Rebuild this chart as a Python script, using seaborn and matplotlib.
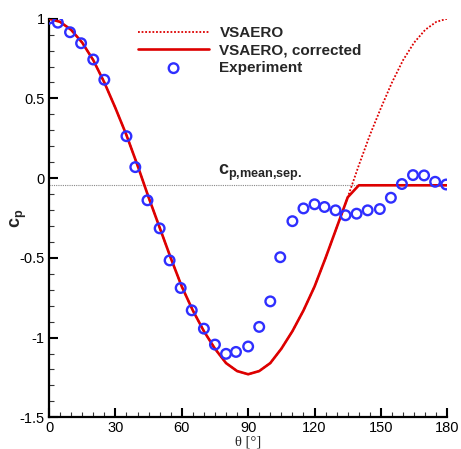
import numpy as np
import pandas as pd
import matplotlib
matplotlib.use("Agg")
import matplotlib.pyplot as plt
from matplotlib.ticker import MultipleLocator, FuncFormatter
import seaborn as sns

# potential flow result (VSAERO), every 5 deg
theta_pot = [0, 5, 10, 15, 20, 25, 30, 35, 40, 45, 50, 55, 60, 65, 70, 75, 80, 85, 90,
             95, 100, 105, 110, 115, 120, 125, 130, 135, 140, 145, 150, 155, 160, 165, 170, 175, 180]
cp_pot = [1.00, 0.98, 0.93, 0.85, 0.74, 0.60, 0.44, 0.27, 0.08, -0.12, -0.31, -0.50, -0.68, -0.83,
          -0.96, -1.07, -1.16, -1.21, -1.23, -1.21, -1.16, -1.07, -0.96, -0.83, -0.68, -0.50,
          -0.31, -0.12, 0.08, 0.27, 0.44, 0.60, 0.74, 0.85, 0.93, 0.98, 1.00]

# corrected: potential up to separation, then constant mean pressure
cp_sep = -0.045
theta_cor = theta_pot[:28] + [140, 180]
cp_cor = cp_pot[:28] + [cp_sep, cp_sep]

# experiment
theta_exp = [0, 4, 9.5, 14.5, 20, 25, 35, 39, 44.5, 50, 54.5, 59.5, 64.5, 70, 75, 80, 84.5, 90,
             95, 100, 104.5, 110, 115, 120, 124.5, 129.5, 134, 139, 144, 149.5, 154.5, 159.5,
             164.5, 169.5, 174.5, 179.5]
cp_exp = [1.0, 0.975, 0.915, 0.846, 0.744, 0.617, 0.263, 0.069, -0.139, -0.315, -0.516, -0.689,
          -0.829, -0.944, -1.044, -1.102, -1.09, -1.056, -0.933, -0.773, -0.496, -0.27, -0.19,
          -0.164, -0.181, -0.202, -0.233, -0.223, -0.202, -0.194, -0.123, -0.037, 0.019, 0.017,
          -0.023, -0.04]

sns.set_theme(style="ticks")
plt.rcParams["font.family"] = ["Liberation Sans", "DejaVu Sans"]
plt.rcParams["axes.unicode_minus"] = False
plt.rcParams["mathtext.fontset"] = "custom"
plt.rcParams["mathtext.rm"] = "Liberation Sans"
plt.rcParams["mathtext.bf"] = "Liberation Sans:bold"

fig = plt.figure(figsize=(4.61, 4.49), dpi=100)
ax = fig.add_axes([0.1063, 0.0706, 0.864, 0.8878])

red = "#dd0000"
blue = "#2f2fff"

ax.axhline(cp_sep, color="#888888", lw=0.8, ls=(0, (1, 1)), zorder=1)

sns.lineplot(x=theta_pot, y=cp_pot, ax=ax, color=red, lw=1.3, ls=(0, (1, 1)),
             sort=False, label="VSAERO", zorder=2)
sns.lineplot(x=theta_cor, y=cp_cor, ax=ax, color=red, lw=1.9,
             sort=False, label="VSAERO, corrected", zorder=3)
sns.scatterplot(x=theta_exp, y=cp_exp, ax=ax, marker="o", s=48, facecolors="none",
                edgecolor=blue, linewidth=1.7, label="Experiment", zorder=4)

ax.set_xlim(0, 180)
ax.set_ylim(-1.5, 1.0)
ax.xaxis.set_major_locator(MultipleLocator(30))
ax.xaxis.set_minor_locator(MultipleLocator(5))
ax.yaxis.set_major_locator(MultipleLocator(0.5))
ax.yaxis.set_minor_locator(MultipleLocator(0.1))
ax.yaxis.set_major_formatter(FuncFormatter(lambda v, p: "%g" % v))
ax.tick_params(which="major", direction="in", length=6.5, width=1.5, labelsize=10.5,
               pad=3.0, color="black", labelcolor="black")
ax.tick_params(which="minor", direction="in", length=3.5, width=0.8, color="#333333")
sns.despine(ax=ax)
for s in ["left", "bottom"]:
    ax.spines[s].set_linewidth(1.6)
    ax.spines[s].set_color("black")

ax.set_xlabel("θ [°]", family=["Liberation Serif", "DejaVu Serif"], fontsize=10.5, va="center")
ax.xaxis.set_label_coords(0.5, -0.063)
ax.set_ylabel(r"$\mathbf{c}_\mathbf{p}$", fontsize=13, va="center")
ax.yaxis.set_label_coords(-0.075, 0.5)

ax.text(76.3, cp_sep + 0.015, r"$\mathbf{c}_{\mathbf{p{,}mean{,}sep.}}$", fontsize=13,
        va="bottom", ha="left")

h, l = ax.get_legend_handles_labels()
leg = ax.legend(h, l, loc="upper left", bbox_to_anchor=(0.19, 1.015), frameon=False,
                handlelength=4.6, handletextpad=0.7, labelspacing=0.22,
                prop={"weight": "bold", "size": 11})

fig.savefig("out.png", dpi=100)
